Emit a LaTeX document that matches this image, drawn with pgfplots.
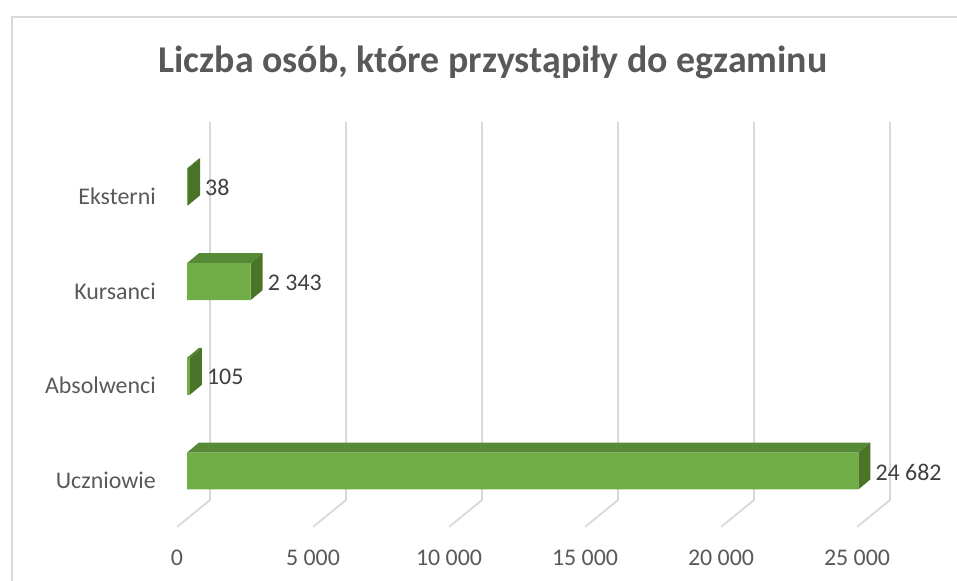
\documentclass[border=0pt]{standalone}
\usepackage{fontspec}
\setmainfont{Carlito}
\usepackage{pgfplots}
\pgfplotsset{compat=1.18}
\definecolor{barfront}{HTML}{70AD47}
\definecolor{bartop}{HTML}{578A36}
\definecolor{barside}{HTML}{4A7529}
\definecolor{gridc}{HTML}{D9D9D9}
\definecolor{txt}{HTML}{595959}
\definecolor{valtxt}{HTML}{404040}
\begin{document}
\begin{tikzpicture}
\begin{axis}[
  width=957bp, height=581bp, scale only axis,
  xmin=-6875, xmax=28309, ymin=-1.1616, ymax=4.9736,
  axis lines=none, clip=false,
  /pgf/number format/assume math mode=true,
]
% gridlines (back wall + floor)
\addplot[gridc, line width=1.8bp] coordinates {(845.6,3.685) (845.6,-0.306) (-367.6,-0.591)};
\addplot[gridc, line width=1.8bp] coordinates {(5845.6,3.685) (5845.6,-0.306) (4632.4,-0.591)};
\addplot[gridc, line width=1.8bp] coordinates {(10845.6,3.685) (10845.6,-0.306) (9632.4,-0.591)};
\addplot[gridc, line width=1.8bp] coordinates {(15845.6,3.685) (15845.6,-0.306) (14632.4,-0.591)};
\addplot[gridc, line width=1.8bp] coordinates {(20845.6,3.685) (20845.6,-0.306) (19632.4,-0.591)};
\addplot[gridc, line width=1.8bp] coordinates {(25845.6,3.685) (25845.6,-0.306) (24632.4,-0.591)};
% top faces
\addplot[fill=bartop, draw=none] coordinates {(0,0.195) (24682,0.195) (25123,0.3006) (441,0.3006)} --cycle;
\addplot[fill=bartop, draw=none] coordinates {(0,1.195) (105,1.195) (546,1.3006) (441,1.3006)} --cycle;
\addplot[fill=bartop, draw=none] coordinates {(0,2.195) (2343,2.195) (2784,2.3006) (441,2.3006)} --cycle;
\addplot[fill=bartop, draw=none] coordinates {(0,3.195) (38,3.195) (479,3.3006) (441,3.3006)} --cycle;
% side faces
\addplot[fill=barside, draw=none] coordinates {(24682,-0.195) (24682,0.195) (25123,0.3006) (25123,-0.0894)} --cycle;
\addplot[fill=barside, draw=none] coordinates {(105,0.805) (105,1.195) (546,1.3006) (546,0.9106)} --cycle;
\addplot[fill=barside, draw=none] coordinates {(2343,1.805) (2343,2.195) (2784,2.3006) (2784,1.9106)} --cycle;
\addplot[fill=barside, draw=none] coordinates {(38,2.805) (38,3.195) (479,3.3006) (479,2.9106)} --cycle;
% front faces
\addplot[xbar, bar width=0.39, bar shift=0pt, fill=barfront, draw=none,
  nodes near coords={\pgfmathprintnumber[1000 sep={\ }]{\pgfplotspointmeta}},
  every node near coord/.append style={anchor=west, inner sep=0pt, xshift=17bp, yshift=-1bp,
    text=valtxt, font=\fontsize{24}{28}\selectfont}]
  coordinates {(24682,0) (105,1) (2343,2) (38,3)};
% border
\draw[gridc, line width=1.5bp] (axis cs:-6434,-1.1616) -- (axis cs:-6434,4.794) -- (axis cs:28309,4.794);
% title
\node[anchor=base, inner sep=0pt, text=txt, font=\fontsize{38}{44}\selectfont\bfseries] at (axis cs:11250,4.2027) {Liczba osób, które przystąpiły do egzaminu};
% category labels
\node[anchor=east, inner sep=0pt, text=txt, font=\fontsize{24}{28}\selectfont] at (axis cs:-1140,-0.1) {Uczniowie};
\node[anchor=east, inner sep=0pt, text=txt, font=\fontsize{24}{28}\selectfont] at (axis cs:-1140,0.9) {Absolwenci};
\node[anchor=east, inner sep=0pt, text=txt, font=\fontsize{24}{28}\selectfont] at (axis cs:-1140,1.9) {Kursanci};
\node[anchor=east, inner sep=0pt, text=txt, font=\fontsize{24}{28}\selectfont] at (axis cs:-1140,2.9) {Eksterni};
% tick labels
\node[inner sep=0pt, text=txt, font=\fontsize{24}{28}\selectfont] at (axis cs:-367.6,-0.9187) {0};
\node[inner sep=0pt, text=txt, font=\fontsize{24}{28}\selectfont] at (axis cs:4632.4,-0.9187) {5 000};
\node[inner sep=0pt, text=txt, font=\fontsize{24}{28}\selectfont] at (axis cs:9632.4,-0.9187) {10 000};
\node[inner sep=0pt, text=txt, font=\fontsize{24}{28}\selectfont] at (axis cs:14632.4,-0.9187) {15 000};
\node[inner sep=0pt, text=txt, font=\fontsize{24}{28}\selectfont] at (axis cs:19632.4,-0.9187) {20 000};
\node[inner sep=0pt, text=txt, font=\fontsize{24}{28}\selectfont] at (axis cs:24632.4,-0.9187) {25 000};
\end{axis}
\pgfresetboundingbox
\useasboundingbox (current axis.south west) rectangle (current axis.north east);
\end{tikzpicture}
\end{document}
